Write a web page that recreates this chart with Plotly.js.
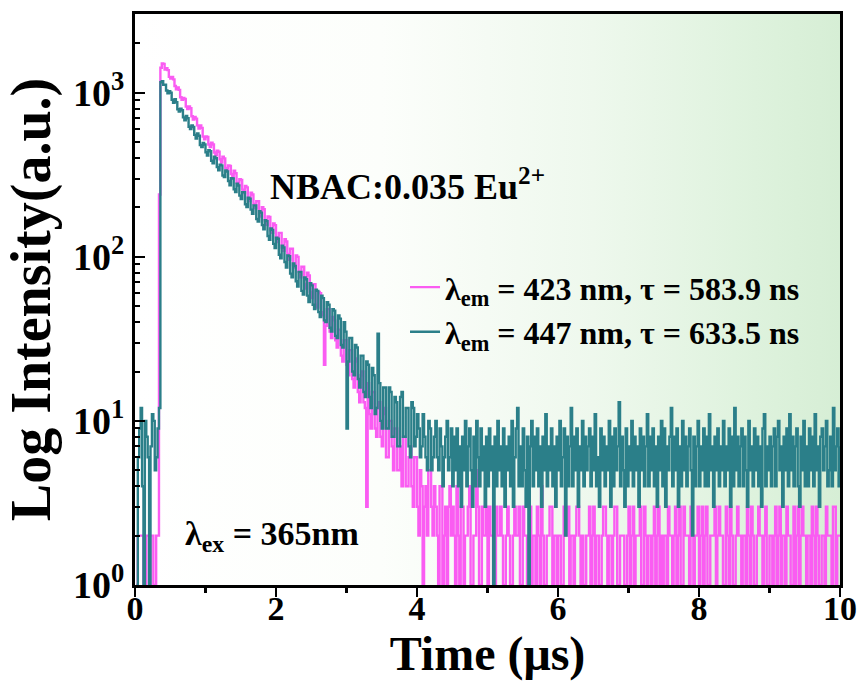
<!DOCTYPE html>
<html><head><meta charset="utf-8">
<script src="https://cdn.plot.ly/plotly-3.0.1.min.js"></script>
<style>
html,body{margin:0;padding:0;background:#fff;}
#wrap{position:relative;width:863px;height:693px;overflow:hidden;}
#bg{position:absolute;left:135px;top:14px;width:705px;height:571px;
 background:linear-gradient(to right,#ffffff 0%,#fcfefb 35%,#eef8ed 65%,#e0f3df 85%,#d6eed5 100%);}
#chart{position:absolute;left:0;top:0;width:863px;height:693px;}
</style></head><body>
<div id="wrap"><div id="bg"></div><div id="chart"></div></div>
<script>
// Time axis (µs): first channel and channel width
const timeStart = 0.02;
const timeStep = 0.02;

// λem = 423 nm decay counts
const pink423 = [
 1,2, 2,2, 2,1, 1,2, 2,1, 2,2, 1,1, 2,2,
 240,1420,
 1510,1500,
 1385,1410, 1373,1250, 1219,1250, 1207,1100, 1051,1078, 1042,938, 906,930, 916,825, 797,826, 805,719, 687,713, 696,633, 605,633, 611,540, 521,541,
 538,484, 467,497, 484,432, 416,444, 437,393, 375,408, 398,348, 338,361, 358,320, 302,335, 323,283, 273,297, 294,257, 245,270, 265,227, 219,246, 240,210, 198,218, 218,183, 176,201, 195,167, 157,176, 175,145, 140,160, 156,131,
 123,140, 140,114, 109,128, 124,104, 96,112, 112,89, 86,102, 100,81, 75,87, 87,68, 64,80, 77,61, 56,68, 68,51, 49,61, 60,46, 44,22, 38,48, 48,35, 32,43, 41,31, 28,36, 36,25, 23,31, 31,22,
 19,27, 27,18, 16,23, 24,15, 13,19, 20,13, 12,3, 17,11, 9,15, 15,9, 8,12, 13,8, 7,11, 12,6, 6,10, 10,7, 5,9, 9,5, 5,7, 4,8, 8,4, 4,6, 7,4, 3,6, 6,3,
 2,5, 4,1, 3,4, 2,5, 5,3, 2,4, 3,2, 1,4, 4,1, 2,3, 1,3, 4,2,
 3,2, 1,4, 2,1, 3,3, 1,2, 2,3, 4,1, 1,2, 2,5, 3,1, 1,3, 2,2, 3,1,
 3,2, 2,1, 1,3, 2,2, 3,2, 1,1, 2,3, 2,1, 1,2, 3,2, 2,3, 1,1, 3,2, 2,1, 2,3, 1,2, 2,1, 3,2, 1,4, 2,1, 1,2, 2,3, 3,1, 2,2, 1,2,
 2,1, 1,3, 2,2, 3,1, 2,2, 1,2, 3,3, 2,1, 2,1, 1,2, 2,3, 1,2, 3,1, 2,2, 1,1, 2,3, 3,2, 1,2, 2,1, 2,3, 3,1, 1,2, 2,2, 1,1, 2,3,
 1,2, 3,1, 2,2, 2,3, 1,1, 3,2, 1,2, 2,1, 2,3, 1,2, 3,1, 2,1, 2,2, 1,3, 2,2, 1,2, 3,1, 2,3, 1,1, 3,2, 2,2, 1,3, 2,1, 2,2, 3,1,
 2,3, 1,2, 3,1, 1,2, 2,2, 3,1, 2,3, 2,2, 1,1, 3,2, 1,3, 2,1, 1,2, 3,2, 2,1, 2,2, 1,3, 2,1, 3,2, 1,1, 2,3, 2,2, 1,2, 3,1, 1,2,
 2,1, 2,3, 1,2, 3,1, 2,2, 1,3, 2,2, 1,1, 3,1, 2,3, 1,2, 3,2, 2,1, 2,2, 1,3, 2,1, 3,2, 1,1, 2,2, 1,3, 2,2, 2,1, 3,3, 1,2, 2,2
];

// λem = 447 nm decay counts
const teal447 = [
 1,6, 9,12, 4,1, 10,8, 6,1, 7,11, 10,5, 6,9,
 12,1160,
 1175,1120,
 1120,1033, 992,1023, 1000,905, 869,912, 877,793, 769,799, 783,708, 680,721, 699,620, 601,631, 618,554, 526,564, 547,480, 466,494, 484,434,
 414,446, 440,385, 371,408, 399,352, 337,364, 361,313, 306,336, 331,290, 273,301, 300,258, 248,279, 272,236, 225,248, 248,209, 201,229, 226,194, 183,206, 206,170, 164,190, 186,156, 147,167, 165,134, 127,149, 146,120, 113,131,
 129,103, 98,117, 114,93, 86,102, 101,79, 75,91, 88,71, 66,81, 81,62, 59,75, 73,58, 53,69, 67,51, 48,63, 62,46, 43,58, 56,41, 40,53, 51,37, 35,48, 47,33, 32,44, 42,29, 28,40, 35,9,
 23,32, 32,20, 19,29, 28,18, 16,25, 25,15, 14,23, 22,14, 12,21, 19,11, 12,34, 17,10, 9,16, 16,9, 9,16, 15,8, 8,14, 13,7, 7,14, 15,8, 8,12, 12,7, 6,13, 12,7, 8,11,
 9,6, 7,11, 8,6, 5,10, 9,5, 6,8, 10,6, 5,9, 7,4, 6,8, 10,5, 6,9,
 4,8,5,9,4,7,3,8,5,10,4,7,
 9,5,3,8,4,10,6,4,9,5,7,3,
 8,4,9,5,7,1,8,4,10,5,7,4,
 9,3,7,5,8,4,10,3,6,9,12,4,
 7,4,9,5,3,8,1,7,10,4,8,5,
 9,4,7,3,8,5,11,4,7,5,9,4,
 7,3,8,5,10,4,6,9,2,8,4,7,
 12,4,8,5,9,3,7,5,10,4,8,5,
 7,9,4,8,5,11,4,6,3,9,5,8,
 4,7,5,10,3,8,4,9,5,7,13,4,
 8,5,3,9,4,7,5,10,4,8,5,7,
 3,9,5,8,4,7,11,4,8,5,9,4,
 7,3,8,5,10,4,9,3,7,5,8,12,
 4,8,5,9,3,7,4,10,5,8,4,7,
 9,5,2,8,4,7,10,4,7,5,9,4,
 8,4,11,5,7,3,8,5,9,4,7,5,
 10,4,7,5,9,3,8,4,12,5,8,4,
 7,9,4,8,5,3,10,5,7,4,9,5,
 8,4,7,3,9,11,4,7,5,8,4,7,
 9,4,8,10,5,7,3,8,5,9,4,11,
 5,8,4,7,9,4,3,8,5,10,4,7,
 4,9,5,8,4,11,5,7,3,8,9,5,
 7,10,4,5,8,4,12,5,7,9,4,7
];

const seriesNames = ['λ<sub>em</sub> = 423 nm, τ = 583.9 ns', 'λ<sub>em</sub> = 447 nm, τ = 633.5 ns'];
const xTickVals = [0,2,4,6,8,10];
const xTickText = ['0','2','4','6','8','10'];
const yTickVals = [1,10,100,1000];
const yTickText = ['10<sup>0</sup>','10<sup>1</sup>','10<sup>2</sup>','10<sup>3</sup>'];
const yMinorVals = [2,3,4,5,6,7,8,9,20,30,40,50,60,70,80,90,200,300,400,500,600,700,800,900,2000,3000];

const FONT = '"Liberation Serif","Times New Roman",Times,serif';
const PINK = '#fa5cf2';
const TEAL = '#2b7f89';

const traces = [
 {type:'scatter', mode:'lines', name:seriesNames[0], x0:timeStart, dx:timeStep, y:pink423,
  line:{color:PINK, width:2.4, shape:'hv'}},
 {type:'scatter', mode:'lines', name:seriesNames[1], x0:timeStart, dx:timeStep, y:teal447,
  line:{color:TEAL, width:2.4, shape:'hv'}}
];

const layout = {
 width:863, height:693,
 margin:{l:135, r:23, t:14, b:108, pad:0},
 paper_bgcolor:'rgba(0,0,0,0)', plot_bgcolor:'rgba(0,0,0,0)',
 font:{family:FONT, color:'#000', weight:'bold'},
 showlegend:true,
 legend:{x:0.383, xanchor:'left', y:0.482, yanchor:'middle', bgcolor:'rgba(0,0,0,0)',
   font:{family:FONT, size:32, color:'#000', weight:'bold'}, tracegroupgap:0},
 xaxis:{range:[0,10], tickmode:'array', tickvals:xTickVals, ticktext:xTickText,
   ticks:'outside', ticklen:9, tickwidth:2.5, tickcolor:'#000', ticklabelstandoff:-18,
   minor:{dtick:1, ticks:'outside', ticklen:5, tickwidth:2.5, tickcolor:'#000', showgrid:false},
   showline:true, linewidth:3, linecolor:'#000', mirror:true, showgrid:false, zeroline:false,
   tickfont:{family:FONT, size:34, weight:'bold'},
   title:{text:'Time (μs)', font:{family:FONT, size:48, weight:'bold'}, standoff:10}},
 yaxis:{type:'log', range:[0,3.48], tickmode:'array', tickvals:yTickVals, ticktext:yTickText,
   ticks:'inside', ticklen:10, tickwidth:2.5, tickcolor:'#000',
   minor:{tickmode:'array', tickvals:yMinorVals, ticks:'inside', ticklen:5, tickwidth:2, tickcolor:'#000', showgrid:false},
   showline:true, linewidth:3, linecolor:'#000', mirror:true, showgrid:false, zeroline:false,
   tickfont:{family:FONT, size:38, weight:'bold'},
   title:{text:'Log Intensity(a.u.)', font:{family:FONT, size:56, weight:'bold'}, standoff:10}},
 annotations:[
  {text:'NBAC:0.035 Eu<sup>2+</sup>', xref:'x', yref:'y', x:1.89, y:2.44, xanchor:'left', yanchor:'middle',
   showarrow:false, font:{family:FONT, size:36, color:'#000', weight:'bold'}},
  {text:'λ<sub>ex</sub> = 365nm', xref:'x', yref:'y', x:0.68, y:0.30, xanchor:'left', yanchor:'middle',
   showarrow:false, font:{family:FONT, size:34, color:'#000', weight:'bold'}}
 ]
};

Plotly.newPlot('chart', traces, layout, {displayModeBar:false, staticPlot:true});
</script>
</body></html>
